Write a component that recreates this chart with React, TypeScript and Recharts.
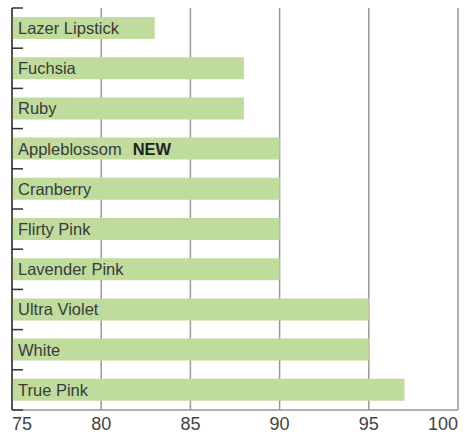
import React from 'react';
import { BarChart, Bar, XAxis, YAxis, CartesianGrid, LabelList } from 'recharts';

const categories = ['Lazer Lipstick', 'Fuchsia', 'Ruby', 'Appleblossom', 'Cranberry', 'Flirty Pink', 'Lavender Pink', 'Ultra Violet', 'White', 'True Pink'];
const values = [83, 88, 88, 90, 90, 90, 90, 95, 95, 97];
const isNew = [false, false, false, true, false, false, false, false, false, false];
const xTicks = [75, 80, 85, 90, 95, 100];

const data = categories.map((name, i) => ({ name, value: values[i], isNew: isNew[i] }));

const W = 468;
const H = 443;
const M = { top: 8, right: 10, bottom: 0, left: 0 };
const YW = 12;
const XH = 33;
const BAND = (H - M.top - M.bottom - XH) / categories.length;
const FONT = '"Liberation Sans", Arial, Helvetica, sans-serif';

const YTick = (props: any) => {
  const { y, index } = props;
  const x = YW;
  const half = BAND / 2;
  return (
    <g>
      <line x1={x} x2={x + 11} y1={y - half} y2={y - half} stroke="#333" strokeWidth={1.5} />
      {index === categories.length - 1 && (
        <line x1={x} x2={x + 11} y1={y + half} y2={y + half} stroke="#333" strokeWidth={1.5} />
      )}
    </g>
  );
};

const XTick = (props: any) => {
  const { x, y, payload } = props;
  const v = payload.value;
  const anchor = v === xTicks[0] ? 'start' : v === xTicks[xTicks.length - 1] ? 'end' : 'middle';
  return (
    <text x={x} y={y + 12} textAnchor={anchor} fontSize={18} fill="#444" fontFamily={FONT}>
      {v}
    </text>
  );
};

const BarLabel = (props: any) => {
  const { x, y, height, index } = props;
  const d = data[index];
  return (
    <text x={x + 6} y={y + height / 2} dy="0.36em" fontSize={16.5} fill="#3a3a3a" fontFamily={FONT}>
      {d.name}
      {d.isNew && (
        <tspan dx={11} fontWeight="bold" fill="#222">NEW</tspan>
      )}
    </text>
  );
};

export default function App() {
  return (
    <div style={{ position: 'absolute', left: 0, top: 0, background: '#fff' }}>
      <BarChart width={W} height={H} data={data} layout="vertical" margin={M} barSize={22}>
        <CartesianGrid horizontal={false} vertical={true} stroke="#999" strokeWidth={1.5} />
        <XAxis
          type="number"
          domain={[75, 100]}
          ticks={xTicks}
          allowDataOverflow
          height={XH}
          tickLine={false}
          axisLine={{ stroke: '#999', strokeWidth: 1.5 }}
          tick={<XTick />}
          interval={0}
        />
        <YAxis
          type="category"
          dataKey="name"
          width={YW}
          tickSize={0}
          tickMargin={0}
          tickLine={false}
          axisLine={{ stroke: '#333', strokeWidth: 1.5 }}
          tick={<YTick />}
          interval={0}
        />
        <Bar dataKey="value" fill="#bfdc9d" isAnimationActive={false}>
          <LabelList dataKey="name" content={<BarLabel />} />
        </Bar>
      </BarChart>
    </div>
  );
}
